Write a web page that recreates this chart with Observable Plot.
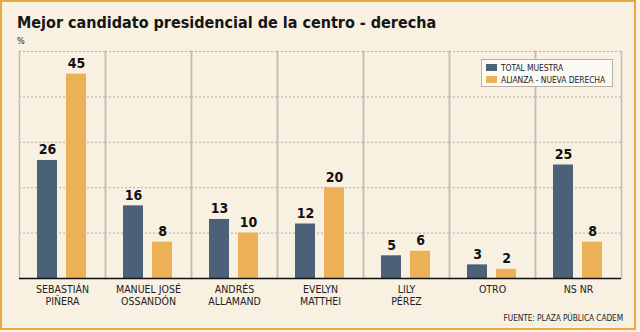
<!DOCTYPE html>
<html>
<head>
<meta charset="utf-8">
<script src="https://cdn.jsdelivr.net/npm/d3@7"></script>
<script src="https://cdn.jsdelivr.net/npm/@observablehq/plot@0.6"></script>
<style>
  html, body { margin: 0; padding: 0; background: #f8f0e1; }
  body { width: 640px; height: 332px; position: relative; overflow: hidden;
         font-family: "DejaVu Sans Condensed", "DejaVu Sans", sans-serif; font-stretch: condensed; }
  #frame { position: absolute; left: 0; top: 0; width: 636px; height: 330px; box-sizing: border-box;
           border: 2px solid #e9a93f; }
  #title { position: absolute; left: 17px; top: 13px; font-size: 16px; font-weight: bold; color: #151515; white-space: nowrap; }
  #unit { position: absolute; left: 17px; top: 36px; font-size: 9px; color: #222; }
  #chart { position: absolute; left: 0; top: 46px; }
  #legend { position: absolute; left: 481px; top: 59px; width: 132px; height: 28px; box-sizing: border-box;
            background: #fcfaf5; border: 1px solid #b4b0aa; font-size: 8.5px; color: #222; }
  #legend .item { position: absolute; left: 4px; white-space: nowrap; line-height: 10px; letter-spacing: -0.1px; }
  #legend .sw { display: inline-block; width: 11px; height: 7px; margin-right: 4px; vertical-align: 0px; }
  #source { position: absolute; right: 17px; top: 313px; font-size: 8.3px; color: #222; white-space: nowrap; letter-spacing: -0.1px; }
</style>
</head>
<body>
<div id="frame"></div>
<div id="title">Mejor candidato presidencial de la centro - derecha</div>
<div id="unit">%</div>
<div id="chart"></div>
<div id="legend"></div>
<div id="source">FUENTE: PLAZA PÚBLICA CADEM</div>
<script>
const categories = ["SEBASTIÁN\nPIÑERA", "MANUEL JOSÉ\nOSSANDÓN", "ANDRÉS\nALLAMAND", "EVELYN\nMATTHEI", "LILY\nPÉREZ", "OTRO", "NS NR"];
const series = ["TOTAL MUESTRA", "ALIANZA - NUEVA DERECHA"];
const totalMuestra = [26, 16, 13, 12, 5, 3, 25];
const alianzaNuevaDerecha = [45, 8, 10, 20, 6, 2, 8];
const yTicks = [10, 20, 30, 40, 50];
const colors = ["#4a6177", "#ecb157"];

const data = categories.flatMap((c, i) => [
  {cat: c, s: series[0], v: totalMuestra[i]},
  {cat: c, s: series[1], v: alianzaNuevaDerecha[i]}
]);

const chart = Plot.plot({
  width: 640, height: 262,
  marginLeft: 18, marginRight: 18, marginTop: 5, marginBottom: 30,
  style: {background: "transparent", fontFamily: "'DejaVu Sans Condensed', 'DejaVu Sans', sans-serif", fontSize: "10px", overflow: "visible"},
  fx: {domain: categories, padding: 0, label: null},
  x: {domain: series, paddingInner: 0.3, paddingOuter: 0.588, axis: null},
  y: {domain: [0, 50], axis: null},
  color: {domain: series, range: colors},
  marks: [
    Plot.ruleY(yTicks, {stroke: "#b3aba0", strokeDasharray: "2,2"}),
    Plot.frame({anchor: "left", stroke: "#c4bcb1", strokeWidth: 1.5}),
    Plot.frame({anchor: "right", stroke: "#c4bcb1", strokeWidth: 1.5}),
    Plot.barY(data, {fx: "cat", x: "s", y: "v", fill: "s"}),
    Plot.text(data, {fx: "cat", x: "s", y: "v", text: d => String(d.v), dy: -6, lineAnchor: "bottom",
                     fontWeight: "bold", fontSize: 14, fill: "#111"}),
    Plot.ruleY([0], {stroke: "#111", strokeWidth: 1.5}),
    Plot.axisFx({anchor: "bottom", tickSize: 0, tickPadding: 6, fontSize: 10.5, lineHeight: 1.15, label: null, fill: "#222"})
  ]
});
document.getElementById("chart").appendChild(chart);

const legend = document.getElementById("legend");
series.forEach((s, i) => {
  const it = document.createElement("div");
  it.className = "item";
  it.style.top = (3 + i * 12) + "px";
  it.innerHTML = `<span class="sw" style="background:${colors[i]}"></span>${s}`;
  legend.appendChild(it);
});
</script>
</body>
</html>
